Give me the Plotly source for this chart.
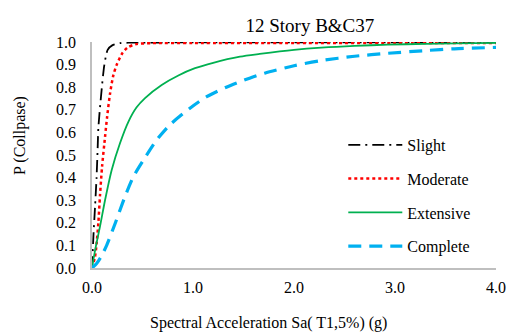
import plotly.graph_objects as go

# Data
slight_sa = [0, 0.005, 0.015, 0.03, 0.045, 0.056, 0.063, 0.089, 0.122, 0.155, 0.2, 0.28, 0.36, 1.0, 2.0, 3.0, 4.0]
slight_p = [0, 0.05, 0.15, 0.27, 0.40, 0.53, 0.62, 0.758, 0.898, 0.965, 0.985, 0.995, 0.997, 0.998, 0.998, 0.998, 0.998]

moderate_sa = [0, 0.03, 0.046, 0.063, 0.079, 0.1, 0.129, 0.15, 0.178, 0.21, 0.245, 0.3, 0.35, 0.43, 0.6, 1.0, 2.0, 3.0, 4.0]
moderate_p = [0, 0.05, 0.11, 0.2, 0.32, 0.45, 0.58, 0.67, 0.77, 0.85, 0.9, 0.95, 0.975, 0.99, 0.995, 0.996, 0.996, 0.996, 0.996]

extensive_sa = [0, 0.013, 0.04, 0.079, 0.129, 0.195, 0.277, 0.36, 0.44, 0.525, 0.69, 0.855, 1.02, 1.2, 1.465, 1.66, 2.0, 2.27, 2.6, 2.93, 3.3, 3.6, 4.0]
extensive_p = [0, 0.035, 0.1, 0.183, 0.30, 0.434, 0.552, 0.647, 0.71, 0.752, 0.81, 0.852, 0.884, 0.908, 0.935, 0.947, 0.965, 0.975, 0.983, 0.988, 0.992, 0.994, 0.996]

complete_sa = [0, 0.046, 0.09, 0.145, 0.23, 0.33, 0.41, 0.51, 0.64, 0.77, 0.97, 1.135, 1.33, 1.56, 1.71, 2.0, 2.27, 2.6, 2.93, 3.3, 3.59, 4.0]
complete_p = [0, 0.02, 0.05, 0.10, 0.198, 0.32, 0.404, 0.478, 0.566, 0.633, 0.707, 0.758, 0.80, 0.84, 0.862, 0.895, 0.918, 0.937, 0.95, 0.962, 0.97, 0.976]

x_ticks = [0, 1, 2, 3, 4]
x_tick_labels = ["0.0", "1.0", "2.0", "3.0", "4.0"]
y_ticks = [0, 0.1, 0.2, 0.3, 0.4, 0.5, 0.6, 0.7, 0.8, 0.9, 1.0]
y_tick_labels = ["0.0", "0.1", "0.2", "0.3", "0.4", "0.5", "0.6", "0.7", "0.8", "0.9", "1.0"]

FONT = "Liberation Serif, Times New Roman, serif"
W, H = 508, 333

series = [
    ("Slight", slight_sa, slight_p, dict(color="black", width=1.8, dash="12px,5px,2px,5px")),
    ("Moderate", moderate_sa, moderate_p, dict(color="#FF0000", width=2.5, dash="dot")),
    ("Extensive", extensive_sa, extensive_p, dict(color="#00B050", width=1.8, dash="solid")),
    ("Complete", complete_sa, complete_p, dict(color="#00B0F0", width=3.2, dash="13px,8px")),
]

fig = go.Figure()
for name, xs, ys, line in series:
    fig.add_trace(go.Scatter(x=xs, y=ys, mode="lines", name=name, legendgroup=name,
                             line=dict(shape="spline", smoothing=0.7, **line)))

fig.update_layout(
    width=W, height=H,
    margin=dict(l=92, r=12, t=42, b=65, autoexpand=False),
    paper_bgcolor="white", plot_bgcolor="white",
    font=dict(family=FONT, size=16, color="black"),
    title=dict(text="12 Story B&C37", x=0.61, xanchor="center", y=0.925, yanchor="middle",
               xref="container", yref="container",
               font=dict(family=FONT, size=19, color="black")),
    legend=dict(x=0.622, xanchor="left", y=0.62, yanchor="top", bgcolor="rgba(0,0,0,0)",
                itemwidth=54, traceorder="grouped", tracegroupgap=10,
                font=dict(family=FONT, size=16, color="black")),
    showlegend=True,
    annotations=[
        dict(text="Spectral Acceleration Sa( T1,5%) (g)", xref="paper", yref="paper",
             x=(268 - 92) / 404, y=-(323 - 268) / 226, xanchor="center", yanchor="middle",
             showarrow=False, font=dict(family=FONT, size=16, color="black")),
        dict(text="P (Collpase)", xref="paper", yref="paper",
             x=-(92 - 20) / 404, y=(268 - 136) / 226, xanchor="center", yanchor="middle",
             textangle=-90, showarrow=False, font=dict(family=FONT, size=16, color="black")),
    ],
)
fig.update_xaxes(range=[0, 4], tickvals=x_ticks, ticktext=x_tick_labels, showgrid=False,
                 zeroline=False, showline=True, linecolor="#BFBFBF", linewidth=1.5,
                 ticks="outside", ticklen=4, tickcolor="rgba(0,0,0,0)", automargin=False)
fig.update_yaxes(range=[0, 1.0], tickvals=y_ticks, ticktext=y_tick_labels, showgrid=False,
                 zeroline=False, showline=True, linecolor="#BFBFBF", linewidth=1.5,
                 ticks="outside", ticklen=11, tickcolor="rgba(0,0,0,0)", automargin=False)

fig.write_html("out.html")
